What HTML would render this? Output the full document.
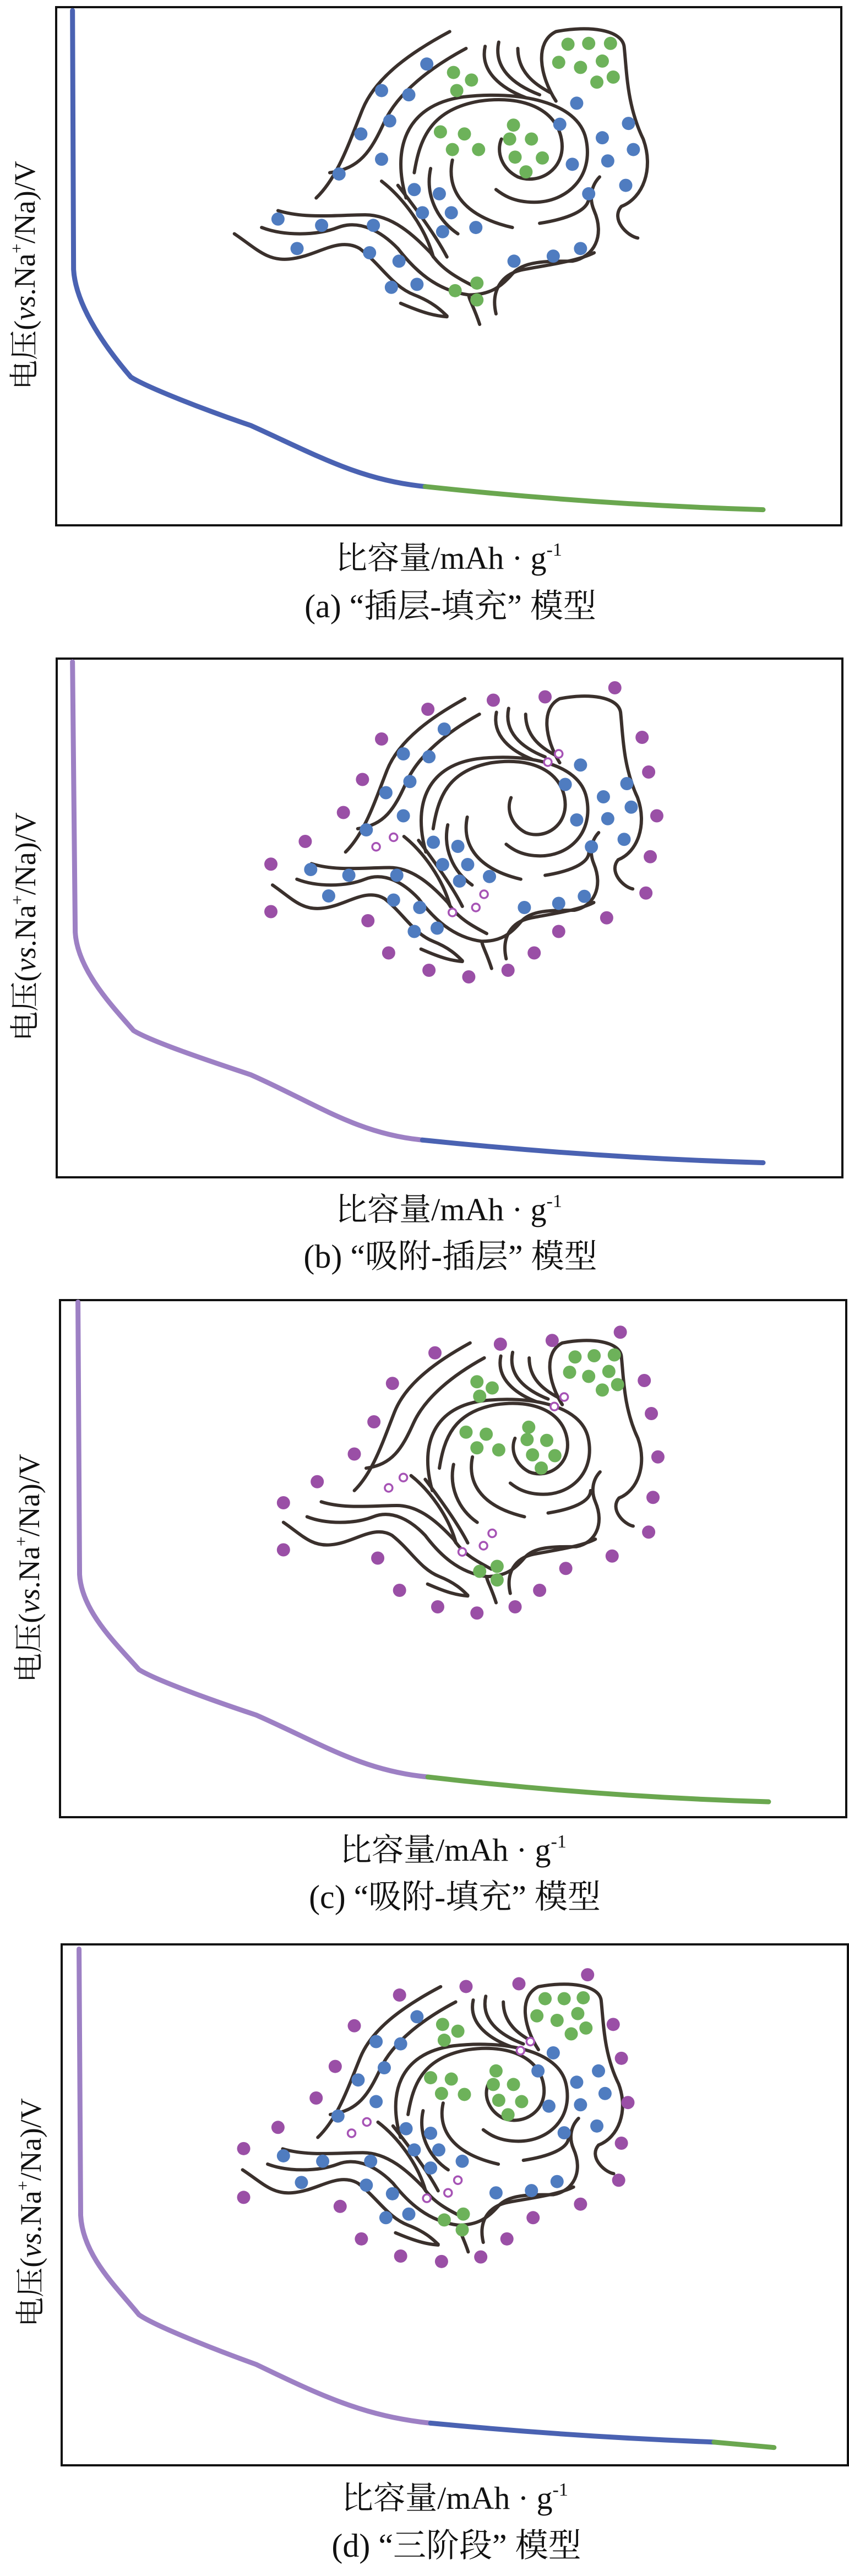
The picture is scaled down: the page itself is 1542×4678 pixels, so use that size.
<!DOCTYPE html>
<html><head><meta charset="utf-8">
<style>
html,body{margin:0;padding:0;background:#fff;}
svg{display:block;}
text{font-family:"Liberation Serif","Noto Serif CJK SC","Noto Sans CJK SC",serif;fill:#111;}
</style></head>
<body>
<svg id="s" xmlns="http://www.w3.org/2000/svg" width="1542" height="4678" viewBox="0 0 1542 4678">
<rect width="1542" height="4678" fill="#fff"/>
<g id="g"></g>
<!-- panel a -->
<text transform="translate(63,500) rotate(-90)" text-anchor="middle" font-size="54">电压(<tspan font-style="italic">vs</tspan>.Na<tspan font-size="32" dy="-22">+</tspan><tspan dy="22">/Na)/V</tspan></text>
<text x="815" y="1033" text-anchor="middle" font-size="58">比容量/mAh · g<tspan font-size="34" dy="-24">-1</tspan></text>
<text x="818" y="1121" text-anchor="middle" font-size="60">(a) “插层-填充” 模型</text>
<!-- panel b -->
<text transform="translate(64,1683) rotate(-90)" text-anchor="middle" font-size="54">电压(<tspan font-style="italic">vs</tspan>.Na<tspan font-size="32" dy="-22">+</tspan><tspan dy="22">/Na)/V</tspan></text>
<text x="815" y="2216" text-anchor="middle" font-size="58">比容量/mAh · g<tspan font-size="34" dy="-24">-1</tspan></text>
<text x="818" y="2302" text-anchor="middle" font-size="60">(b) “吸附-插层” 模型</text>
<!-- panel c -->
<text transform="translate(71,2848) rotate(-90)" text-anchor="middle" font-size="54">电压(<tspan font-style="italic">vs</tspan>.Na<tspan font-size="32" dy="-22">+</tspan><tspan dy="22">/Na)/V</tspan></text>
<text x="823" y="3379" text-anchor="middle" font-size="58">比容量/mAh · g<tspan font-size="34" dy="-24">-1</tspan></text>
<text x="826" y="3465" text-anchor="middle" font-size="60">(c) “吸附-填充” 模型</text>
<!-- panel d -->
<text transform="translate(74,4018) rotate(-90)" text-anchor="middle" font-size="54">电压(<tspan font-style="italic">vs</tspan>.Na<tspan font-size="32" dy="-22">+</tspan><tspan dy="22">/Na)/V</tspan></text>
<text x="826" y="4556" text-anchor="middle" font-size="58">比容量/mAh · g<tspan font-size="34" dy="-24">-1</tspan></text>
<text x="829" y="4643" text-anchor="middle" font-size="60">(d) “三阶段” 模型</text>
</svg>
<script>
(function(){
var NS="http://www.w3.org/2000/svg",G=document.getElementById("g");
function el(t,a,p){var e=document.createElementNS(NS,t);for(var k in a)e.setAttribute(k,a[k]);(p||G).appendChild(e);return e;}
var BLUE="#4a62b2",GREEN="#6aa74f",PURL="#9d80c4",BD="#4f7cc0",GD="#6db25a",PD="#9a4fa6";
var LINES=[
"M825,75 C760,120 690,180 665,260 C640,340 620,420 580,470",
"M855,115 C790,160 730,220 705,290 C680,360 660,400 605,410",
"M760,410 C770,330 790,260 880,240 C960,225 1020,260 1030,330 C1040,400 990,440 950,420 C920,400 910,360 920,330",
"M745,470 C720,360 740,250 850,230 C950,215 1060,240 1075,330 C1090,420 1040,480 980,480 C940,480 920,460 910,450",
"M1020,240 C990,180 980,100 1020,75 C1080,60 1140,70 1145,110 C1150,170 1150,250 1180,330 C1200,400 1180,470 1140,490 C1120,520 1150,560 1170,565",
"M890,110 C880,170 920,210 965,232",
"M915,100 C905,160 940,200 990,225",
"M950,115 C950,170 980,200 1010,220",
"M430,555 C470,590 490,620 530,615 C580,610 620,560 660,590 C700,630 720,680 760,700 C800,720 815,745 820,750",
"M480,540 C520,560 580,560 620,540 C660,520 700,550 730,590 C760,640 800,690 860,700 C900,700 920,680 940,650 C960,620 1000,620 1050,620 C1090,610 1110,560 1090,500 C1080,470 1085,440 1100,420",
"M510,500 C560,520 620,510 670,510 C720,510 760,560 790,600 C810,640 840,660 870,680",
"M700,430 C740,470 780,540 795,610",
"M730,440 C760,490 800,560 820,610",
"M790,400 C780,460 800,520 840,555",
"M830,380 C820,440 840,510 940,540",
"M910,745 C900,690 920,650 960,640 C1000,630 1060,620 1090,600",
"M735,720 C780,745 800,750 820,752",
"M880,770 C870,730 860,710 860,700",
"M990,530 C1040,520 1080,500 1080,470"
];
var P=[
{Y0:0,ky:0.765,box:[102,13,1528,954],cl:null,
 curve:[[133,25],[135,640],[240,895],[460,1010],[780,1155],[1400,1210]],cols:[BLUE,GREEN],
 blue:[[783,152],[700,215],[750,225],[715,287],[662,318],[700,378],[622,413],[1058,245],[1027,295],[1105,327],[1153,293],[1162,355],[1115,382],[1050,390],[1148,440],[1080,460],[760,450],[806,460],[775,505],[828,505],[873,540],[812,550],[685,535],[590,535],[510,520],[545,590],[678,600],[732,620],[718,682],[765,675],[943,620],[1015,608],[1065,590]],
 green:[[1042,105],[1080,103],[1120,103],[1025,148],[1065,160],[1105,145],[1095,195],[1125,183],[832,172],[865,190],[838,215],[808,313],[852,318],[830,355],[878,355],[942,297],[935,330],[975,330],[945,373],[995,375],[965,408],[835,690],[875,672],[875,712]],
 purple:[],rings:[]},
{Y0:1183,ky:0.75,box:[103,1196,1530,2138],cl:[500,0.893,105,0.94],
 curve:[[133,25],[138,680],[245,918],[460,1025],[775,1183],[1400,1238]],cols:[PURL,BLUE],
 purple:[[785,140],[905,118],[1000,110],[1128,88],[700,212],[1178,208],[665,310],[1190,292],[630,390],[1205,398],[560,460],[497,515],[1193,497],[497,630],[1185,585],[675,652],[1113,645],[1025,678],[713,730],[980,730],[787,772],[860,788],[932,772]],
 blue:[[815,188],[740,248],[787,255],[752,315],[708,342],[740,398],[672,432],[1065,275],[1037,322],[1107,352],[1150,320],[1158,377],[1115,405],[1058,408],[1145,455],[1085,473],[795,462],[840,472],[812,516],[858,516],[898,545],[843,556],[728,542],[640,542],[570,528],[603,592],[722,602],[770,620],[760,678],[802,670],[962,620],[1025,610],[1072,593]],
 green:[],rings:[[1005,268],[1025,248],[690,473],[722,450],[830,632],[873,620],[888,588]]},
{Y0:2357,ky:0.75,box:[109,2361,1537,3300],cl:[520,0.867,100,0.905],
 curve:[[143,10],[146,670],[255,900],[470,1010],[785,1160],[1410,1220]],cols:[PURL,GREEN],
 purple:[[798,133],[918,112],[1013,103],[1138,83],[720,207],[1182,200],[686,300],[1195,280],[650,378],[1207,385],[582,445],[520,496],[1198,483],[520,610],[1190,567],[693,630],[1123,625],[1038,655],[733,708],[990,708],[803,748],[875,763],[945,748]],
 green:[[1055,143],[1090,140],[1127,138],[1045,180],[1080,190],[1117,178],[1105,223],[1133,210],[875,203],[903,218],[880,238],[855,325],[892,330],[875,363],[915,368],[970,313],[967,343],[1003,345],[977,380],[1018,382],[993,412],[880,662],[912,650],[912,683]],
 blue:[],rings:[[1017,263],[1035,240],[713,460],[740,435],[848,615],[887,600],[903,570]]},
{Y0:3400,ky:0.82,box:[112,3531,1540,4477],cl:[445,0.92,245,0.845],
 curve:[[145,170],[148,760],[255,980],[470,1090],[790,1220],[1310,1262],[1420,1274]],cols:[PURL,BLUE,GREEN],
 purple:[[733,272],[855,253],[952,247],[1078,227],[650,340],[1125,337],[615,430],[1140,412],[580,500],[1152,510],[510,565],[447,612],[1140,600],[447,720],[1135,682],[624,740],[1065,735],[978,765],[663,812],[930,812],[735,850],[810,862],[882,852]],
 blue:[[765,320],[690,375],[735,380],[705,433],[657,460],[690,508],[620,540],[1015,400],[987,440],[1058,465],[1098,440],[1110,490],[1065,515],[1007,518],[1095,562],[1035,577],[745,568],[790,578],[760,615],[805,615],[848,640],[790,655],[680,640],[592,640],[520,628],[553,687],[672,693],[720,712],[708,765],[750,757],[910,710],[975,705],[1022,685]],
 green:[[1000,280],[1035,280],[1070,278],[985,318],[1022,328],[1060,313],[1048,358],[1075,345],[812,337],[840,352],[815,372],[790,455],[828,458],[810,490],[852,492],[910,440],[905,470],[942,470],[915,505],[957,508],[932,537],[815,770],[850,757],[848,792]],
 rings:[[955,395],[973,375],[645,578],[673,553],[783,722],[822,710],[840,682]]}
];
P.forEach(function(p){
  var b=p.box;
  el("rect",{x:b[0],y:b[1],width:b[2]-b[0],height:b[3]-b[1],fill:"none",stroke:"#111","stroke-width":4});
  var g=el("g",{transform:"translate(0,"+p.Y0+") scale(0.99,"+p.ky+")"});
  var c=p.curve,s=function(q){return q[0]+","+q[1];};
  var d1="M"+s(c[0])+" L"+s(c[1])+" C"+(c[1][0]+4)+","+(c[1][1]+90)+" "+(c[2][0]-40)+","+(c[2][1]-60)+" "+s(c[2])+
    " C"+(c[2][0]+30)+","+(c[2][1]+25)+" "+(c[3][0]-80)+","+(c[3][1]-35)+" "+s(c[3])+
    " C"+(c[3][0]+120)+","+(c[3][1]+70)+" "+(c[4][0]-120)+","+(c[4][1]-15)+" "+s(c[4]);
  el("path",{d:d1,fill:"none",stroke:p.cols[0],"stroke-width":9,"stroke-linecap":"round","vector-effect":"non-scaling-stroke"},g);
  el("path",{d:"M"+s(c[4])+" Q"+((c[4][0]+c[5][0])/2)+","+(c[5][1]-12)+" "+s(c[5]),fill:"none",stroke:p.cols[1],"stroke-width":9,"stroke-linecap":"round","vector-effect":"non-scaling-stroke"},g);
  if(c[6]) el("path",{d:"M"+s(c[5])+" L"+s(c[6]),fill:"none",stroke:p.cols[2],"stroke-width":9,"stroke-linecap":"round","vector-effect":"non-scaling-stroke"},g);
  var lg=g;
  if(p.cl){lg=el("g",{transform:"translate("+p.cl[0]+","+p.cl[2]+") scale("+p.cl[1]+","+p.cl[3]+") translate(-430,-65)"},g);}
  LINES.forEach(function(d){el("path",{d:d,fill:"none",stroke:"#3a302c","stroke-width":6,"stroke-linecap":"round","vector-effect":"non-scaling-stroke"},lg);});
  function dots(list,col,r,ring){list.forEach(function(q){
    var x=q[0]*0.99,y=p.Y0+q[1]*p.ky;
    if(ring) el("circle",{cx:x,cy:y,r:7,fill:"#fff",stroke:col,"stroke-width":3.5});
    else el("circle",{cx:x,cy:y,r:r,fill:col});
  });}
  dots(p.purple,PD,12);dots(p.blue,BD,12);dots(p.green,GD,12);dots(p.rings,"#a653b5",0,true);
});
})();
</script>
</body></html>
